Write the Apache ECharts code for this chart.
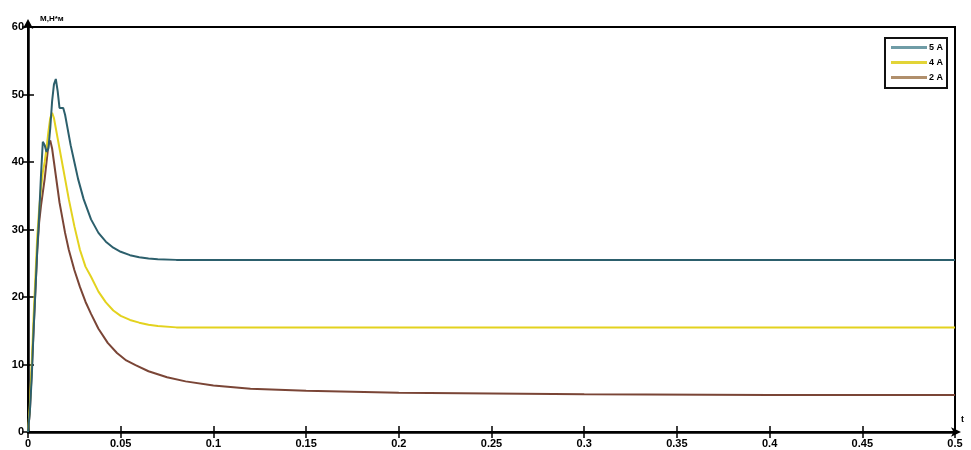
<!DOCTYPE html>
<html>
<head>
<meta charset="utf-8">
<script src="https://cdn.jsdelivr.net/npm/echarts@6/dist/echarts.min.js"></script>
<style>html,body{margin:0;padding:0;background:#fff}#c{width:971px;height:450px}</style>
</head>
<body>
<div id="c"></div>
<script>
const seriesNames = ['5 A', '4 A', '2 A'];
const xTicks = ['0','0.05','0.1','0.15','0.2','0.25','0.3','0.35','0.4','0.45','0.5'];
const yTicks = ['0','10','20','30','40','50','60'];

const t5A = [0,0.001,0.002,0.003,0.004,0.005,0.006,0.007,0.008,0.009,0.010,0.011,0.012,0.013,0.014,0.015,0.016,0.017,0.018,0.019,0.020,0.021,0.022,0.023,0.025,0.027,0.030,0.034,0.038,0.042,0.046,0.050,0.055,0.060,0.065,0.070,0.080,0.100,0.150,0.200,0.250,0.300,0.350,0.400,0.450,0.500];
const v5A = [0,3,8,15,21,27,32,38,43,42.5,41.5,42,45,49,51.5,52.3,50.5,48,48.2,48,47,45.5,44,42.5,40,37.5,34.5,31.5,29.5,28.2,27.3,26.7,26.2,25.9,25.7,25.6,25.5,25.5,25.5,25.5,25.5,25.5,25.5,25.5,25.5,25.5];

const t4A = [0,0.001,0.002,0.003,0.004,0.005,0.006,0.007,0.008,0.009,0.010,0.011,0.012,0.013,0.014,0.015,0.016,0.017,0.018,0.019,0.020,0.022,0.025,0.028,0.031,0.034,0.038,0.042,0.046,0.050,0.055,0.060,0.065,0.070,0.080,0.100,0.150,0.200,0.250,0.300,0.350,0.400,0.450,0.500];
const v4A = [0,4,10,17,23,29,33,36,38.5,40,42,44.5,46.5,47.3,46.5,45,43.5,42,40.5,39,37.5,34.5,30.5,27,24.5,23,20.8,19.2,18,17.2,16.6,16.2,15.9,15.7,15.5,15.5,15.5,15.5,15.5,15.5,15.5,15.5,15.5,15.5];

const t2A = [0,0.001,0.002,0.003,0.004,0.005,0.006,0.007,0.008,0.009,0.010,0.011,0.012,0.013,0.014,0.015,0.016,0.017,0.018,0.020,0.022,0.025,0.028,0.031,0.034,0.038,0.043,0.048,0.053,0.058,0.065,0.075,0.085,0.100,0.120,0.150,0.200,0.250,0.300,0.400,0.500];
const v2A = [0,3,9,15,21,27,31,33.5,35.5,37.5,40,42.5,43.2,42,40,38,36,34,32.5,29.5,27,24,21.5,19.3,17.5,15.3,13.2,11.7,10.6,9.9,9,8.1,7.5,6.9,6.4,6.1,5.8,5.7,5.6,5.5,5.5];

const lineColors = ['#2c5f6c', '#e3d21e', '#7a4536'];
const legendColors = ['#6f9ca6', '#e2d437', '#b08f6c'];

function pairs(t, v) { return t.map((x, i) => [x, v[i]]); }
const allData = [pairs(t5A, v5A), pairs(t4A, v4A), pairs(t2A, v2A)];

const chart = echarts.init(document.getElementById('c'));
const font = 'Liberation Sans, Arial, sans-serif';
const labelStyle = { color: '#000', fontWeight: 'bold', fontSize: 11, fontFamily: font };

chart.setOption({
  animation: false,
  backgroundColor: '#fff',
  grid: { left: 28, right: 16, top: 27, bottom: 18, show: true, borderColor: '#000', borderWidth: 2 },
  legend: {
    orient: 'vertical',
    right: 24,
    top: 38,
    borderColor: '#111',
    borderWidth: 2,
    borderRadius: 0,
    padding: [5, 4, 6, 6],
    itemGap: 6,
    itemWidth: 36,
    itemHeight: 3,
    icon: 'rect',
    textStyle: { color: '#000', fontWeight: 'bold', fontSize: 9, fontFamily: font, padding: [0, 0, 0, -3] },
    data: seriesNames.map((n, i) => ({ name: n, itemStyle: { color: legendColors[i] } }))
  },
  xAxis: [{
    type: 'value', min: 0, max: 0.5, interval: 0.05,
    name: 't', nameLocation: 'end', nameGap: 6,
    nameTextStyle: { color: '#000', fontSize: 9, fontWeight: 'bold', fontFamily: font, verticalAlign: 'bottom', padding: [0, 0, 8, 0] },
    axisLine: { show: true, onZero: false, lineStyle: { color: '#000', width: 2.5 }, symbol: ['none', 'arrow'], symbolSize: [7, 10], symbolOffset: [0, 6] },
    axisTick: { show: true, inside: true, length: 6, lineStyle: { color: '#000', width: 1.5 } },
    axisLabel: Object.assign({ margin: 6, formatter: (v) => { const i = Math.round(v / 0.05); return xTicks[i] !== undefined ? xTicks[i] : ''; } }, labelStyle),
    splitLine: { show: false }
  }, {
    type: 'value', min: 0, max: 0.5, interval: 0.05, position: 'top',
    axisLine: { show: false },
    axisTick: { show: true, inside: true, length: 6, lineStyle: { color: '#000', width: 1.5 } },
    axisLabel: { show: false },
    splitLine: { show: false }
  }],
  yAxis: [{
    type: 'value', min: 0, max: 60, interval: 10,
    name: 'M,Н*м', nameLocation: 'end', nameGap: 4,
    nameTextStyle: { color: '#000', fontSize: 8, fontWeight: 'bold', fontFamily: font, align: 'left', padding: [0, 0, 0, 12] },
    axisLine: { show: true, onZero: false, lineStyle: { color: '#000', width: 2.5 }, symbol: ['none', 'arrow'], symbolSize: [8, 10], symbolOffset: [0, 8] },
    axisTick: { show: true, inside: true, length: 6, lineStyle: { color: '#000', width: 1.5 } },
    axisLabel: Object.assign({ margin: 4, formatter: (v) => { const i = Math.round(v / 10); return yTicks[i] !== undefined ? yTicks[i] : ''; } }, labelStyle),
    splitLine: { show: false }
  }, {
    type: 'value', min: 0, max: 60, interval: 10, position: 'right',
    axisLine: { show: false },
    axisTick: { show: true, inside: true, length: 6, lineStyle: { color: '#000', width: 1.5 } },
    axisLabel: { show: false },
    splitLine: { show: false }
  }],
  series: seriesNames.map((n, i) => ({
    name: n,
    type: 'line',
    data: allData[i],
    showSymbol: false,
    smooth: false,
    itemStyle: { color: legendColors[i] },
    lineStyle: { color: lineColors[i], width: 2 },
    z: 3 - i
  }))
});
</script>
</body>
</html>
